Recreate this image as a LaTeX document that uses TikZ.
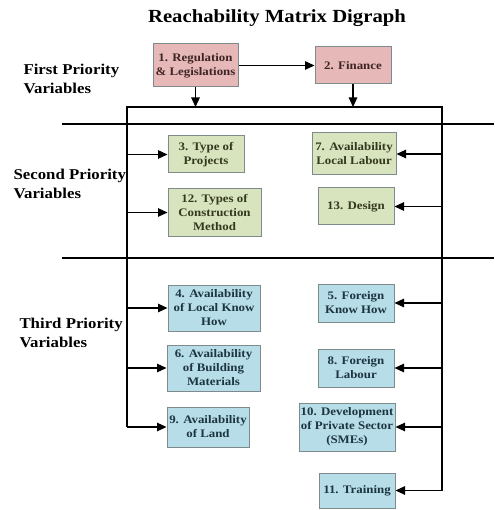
\documentclass[tikz,border=0pt]{standalone}
\usepackage{fontspec}
\setmainfont[FakeStretch=1.12]{Liberation Serif}
\usetikzlibrary{arrows.meta}
\definecolor{pinkfill}{HTML}{E6B9B8}
\definecolor{greenfill}{HTML}{D7E4BD}
\definecolor{bluefill}{HTML}{B7DDE8}
\definecolor{boxline}{HTML}{7F8A8C}
\definecolor{pinktext}{HTML}{3F2424}
\definecolor{greentext}{HTML}{34381F}
\definecolor{bluetext}{HTML}{1C3540}
\tikzset{
  vbox/.style={draw=boxline, line width=1pt, align=center, inner sep=1pt,
    font=\bfseries\fontsize{11.5}{14}\selectfont},
  pinkbox/.style={vbox, fill=pinkfill, text=pinktext},
  greenbox/.style={vbox, fill=greenfill, text=greentext},
  bluebox/.style={vbox, fill=bluefill, text=bluetext},
  conn/.style={line width=1.2pt, black},
  arr/.style={conn, -{Triangle[length=9.5pt,width=8.5pt]}},
  sep/.style={black},
  lvl/.style={anchor=west, align=left, font=\bfseries\fontsize{15}{18.5}\selectfont},
}
\begin{document}
\begin{tikzpicture}[x=1pt,y=-1pt]
\useasboundingbox (0,0) rectangle (494,510);
\node[font=\bfseries\fontsize{18.5}{20}\selectfont] (title) at (277,18) {Reachability Matrix Digraph};
% level labels
\node[lvl] (l1) at (20,79) {First Priority\\Variables};
\node[lvl] (l2) at (10,184) {Second Priority\\Variables};
\node[lvl] (l3) at (16,333) {Third Priority\\Variables};
% separators
\coordinate (s1a) at (62,124); \coordinate (s1b) at (494,124);
\coordinate (s2a) at (62,258); \coordinate (s2b) at (494,258);
\draw[sep, line width=2.4pt] (s1a) -- (s1b);
\draw[sep, line width=1.7pt] (s2a) -- (s2b);
% boxes
\node[pinkbox, minimum width=85, minimum height=43] (b1) at (195.5,65.5) {1. Regulation\\\& Legislations};
\node[pinkbox, minimum width=76, minimum height=37] (b2) at (353,65.5) {2. Finance};
\node[greenbox, minimum width=76, minimum height=37] (b3) at (206,154.5) {3. Type of\\Projects};
\node[greenbox, minimum width=84, minimum height=42] (b7) at (354,154) {7. Availability\\Local Labour};
\node[greenbox, minimum width=93, minimum height=47] (b12) at (214.5,212.5) {12. Types of\\Construction\\Method};
\node[greenbox, minimum width=76, minimum height=37] (b13) at (356,206.5) {13. Design};
\node[bluebox, minimum width=92, minimum height=46] (b4) at (214,308) {4. Availability\\of Local Know\\How};
\node[bluebox, minimum width=93, minimum height=46] (b6) at (213.5,368) {6. Availability\\of Building\\Materials};
\node[bluebox, minimum width=82, minimum height=40] (b9) at (208,427) {9. Availability\\of Land};
\node[bluebox, minimum width=76, minimum height=38] (b5) at (356,303) {5. Foreign\\Know How};
\node[bluebox, minimum width=76, minimum height=38] (b8) at (356,368) {8. Foreign\\Labour};
\node[bluebox, minimum width=96, minimum height=48] (b10) at (347,427) {10. Development\\of Private Sector\\(SMEs)};
\node[bluebox, minimum width=76, minimum height=35] (b11) at (357,490.5) {11. Training};
% frame coordinates
\coordinate (ltop) at (127,107);
\coordinate (rtop) at (442,107);
\coordinate (lbot) at (127,427);
\coordinate (rbot) at (442,490.5);
\draw[conn] (lbot) -- (ltop) -- (rtop) -- (rbot);
% top arrows
\draw[arr] (b1.east) -- (b2.west);
\draw[arr] (b1.south) -- (b1.south |- ltop);
\draw[arr] (b2.south) -- (b2.south |- rtop);
% left branch
\draw[arr] (ltop |- b3.west) -- (b3.west);
\draw[arr] (ltop |- b12.west) -- (b12.west);
\draw[arr] (ltop |- b4.west) -- (b4.west);
\draw[arr] (ltop |- b6.west) -- (b6.west);
\draw[arr] (lbot) -- (b9.west);
% right branch
\draw[arr] (rtop |- b7.east) -- (b7.east);
\draw[arr] (rtop |- b13.east) -- (b13.east);
\draw[arr] (rtop |- b5.east) -- (b5.east);
\draw[arr] (rtop |- b8.east) -- (b8.east);
\draw[arr] (rtop |- b10.east) -- (b10.east);
\draw[arr] (rbot) -- (b11.east);
\end{tikzpicture}
\end{document}
